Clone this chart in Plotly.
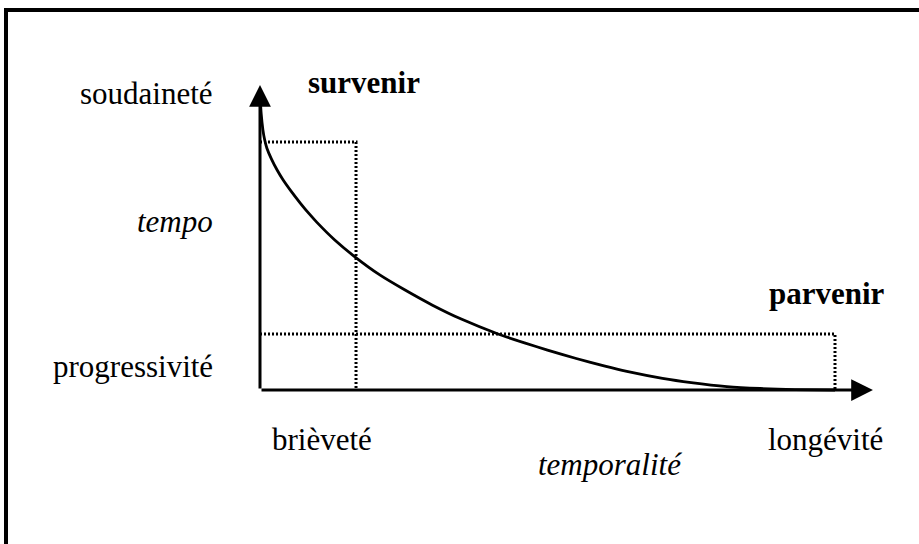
import plotly.graph_objects as go

# Curve: tempo (y) as a function of temporalité (x)
curve_x = [0.005, 0.02, 0.05, 0.08, 0.12, 0.20, 0.30, 0.40, 0.55, 0.70, 0.85, 0.99, 1.30, 1.65,
           2.09, 2.50, 3.00, 3.50, 4.14, 4.60, 5.00, 5.50, 6.00, 6.38, 7.00, 7.50, 8.12, 8.70,
           9.30, 10.0]
curve_y = [11.75, 11.15, 10.50, 10.10, 9.75, 9.31, 8.86, 8.48, 7.99, 7.54, 7.12, 6.76, 6.05, 5.37,
           4.63, 4.06, 3.42, 2.86, 2.26, 1.90, 1.61, 1.27, 0.96, 0.75, 0.47, 0.30, 0.14, 0.06,
           0.015, 0.0]

# Reference levels
brevity_x = 1.67
longevity_x = 10.0
sudden_y = 10.0
progressive_y = 2.26

# Axis ends (arrow tips)
x_axis_end = 10.66
y_axis_end = 12.3

# Labels
y_labels = ["soudaineté", "tempo", "progressivité"]
x_labels = ["brièveté", "temporalité", "longévité"]
verb_labels = ["survenir", "parvenir"]

FONT = "Liberation Serif"
FS = 31

fig = go.Figure()

# dotted guides
fig.add_trace(go.Scatter(
    x=[0, brevity_x, brevity_x], y=[sudden_y, sudden_y, 0],
    mode="lines", line=dict(color="black", width=3, dash="2px,2px"),
    hoverinfo="skip", showlegend=False))
fig.add_trace(go.Scatter(
    x=[0, longevity_x, longevity_x], y=[progressive_y, progressive_y, 0],
    mode="lines", line=dict(color="black", width=3, dash="2px,2px"),
    hoverinfo="skip", showlegend=False))

# curve
fig.add_trace(go.Scatter(
    x=curve_x, y=curve_y, mode="lines",
    line=dict(color="black", width=2.8, shape="spline", smoothing=0.5),
    hoverinfo="skip", showlegend=False))

annotations = []
# axes as arrows
annotations.append(dict(x=0, y=y_axis_end, ax=0, ay=0, xref="x", yref="y",
                        axref="x", ayref="y", text="", showarrow=True,
                        arrowhead=2, arrowwidth=3, arrowsize=1.45, arrowcolor="black",
                        standoff=0, startstandoff=0))
annotations.append(dict(x=x_axis_end, y=0, ax=0, ay=0, xref="x", yref="y",
                        axref="x", ayref="y", text="", showarrow=True,
                        arrowhead=2, arrowwidth=3, arrowsize=1.45, arrowcolor="black",
                        standoff=0, startstandoff=0))

def label(text, x, y, xanchor, italic=False, bold=False):
    t = text
    if italic:
        t = "<i>" + t + "</i>"
    if bold:
        t = "<b>" + t + "</b>"
    return dict(x=x, y=y, xref="x", yref="y", text=t, showarrow=False,
                xanchor=xanchor, yanchor="middle",
                font=dict(family=FONT, size=FS, color="black"))

annotations.append(label(y_labels[0], -0.78, 11.95, "right"))
annotations.append(label(y_labels[1], -0.78, 6.8, "right", italic=True))
annotations.append(label(y_labels[2], -0.78, 0.95, "right"))
annotations.append(label(x_labels[0], 0.17, -2.0, "left"))
annotations.append(label(x_labels[1], 6.08, -3.0, "center", italic=True))
annotations.append(label(x_labels[2], 8.8, -2.0, "left"))
annotations.append(label(verb_labels[0], 0.8, 12.4, "left", bold=True))
annotations.append(label(verb_labels[1], 10.9, 3.9, "right", bold=True))

fig.update_layout(
    width=919, height=544,
    margin=dict(l=0, r=0, t=0, b=0, pad=0),
    paper_bgcolor="white", plot_bgcolor="white",
    xaxis=dict(range=[-260/57.5, (919-260)/57.5], visible=False, fixedrange=True),
    yaxis=dict(range=[(390-544)/24.8, 390/24.8], visible=False, fixedrange=True),
    annotations=annotations,
    shapes=[dict(type="rect", xref="paper", yref="paper",
                 x0=6/919, x1=1.05, y0=-0.05, y1=1 - 10/544,
                 line=dict(color="black", width=4))],
    showlegend=False,
)

fig.write_html("out.html", config={"displayModeBar": False, "staticPlot": True},
               post_script="document.body.style.margin='0';document.body.style.overflow='hidden';")
